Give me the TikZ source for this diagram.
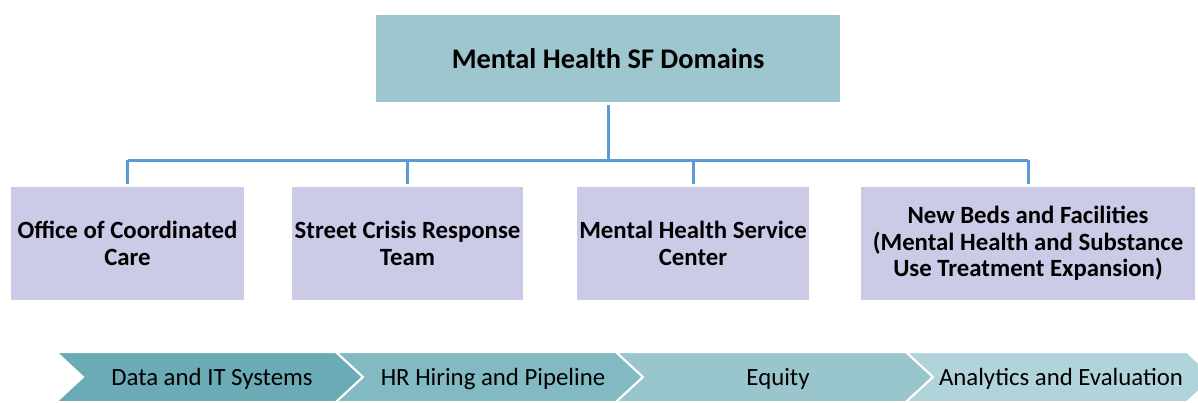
\documentclass[tikz,border=0pt]{standalone}
\usepackage{fontspec}
\setmainfont{Carlito}
\usepackage{xcolor}

\definecolor{topo}{HTML}{9DC6CE}
\definecolor{lilas}{HTML}{CBCBE8}
\definecolor{ramo}{HTML}{5B9BD5}
\definecolor{setaA}{HTML}{6AABB6}
\definecolor{setaB}{HTML}{81BAC3}
\definecolor{setaC}{HTML}{99C5CD}
\definecolor{setaD}{HTML}{B1D4DA}

\begin{document}
\begin{tikzpicture}[x=0.5pt,y=-0.5pt]
        \tikzstyle{titulo}=[fill=topo, draw=none, minimum width=232pt, minimum height=43.5pt, font=\bfseries\fontsize{14.2}{17}\selectfont]
        \tikzstyle{dominio}=[fill=lilas, draw=none, minimum height=56.5pt, align=center, inner sep=1pt, font=\bfseries\fontsize{12.4}{13.3}\selectfont]
        \tikzstyle{ligacao}=[draw=ramo, line width=1.5pt]
        \tikzstyle{seta}=[draw=white, line width=1pt]
        \tikzstyle{rotulo}=[font=\fontsize{12.4}{14}\selectfont]

        \useasboundingbox (0,0) rectangle (1198,402);

        % caixa principal
        \node[titulo] (mhsf) at (608,58.5) {Mental Health SF Domains};

        % dominios
        \node[dominio, minimum width=116.5pt] (occ) at (127.5,243.5) {Office of Coordinated\\Care};
        \node[dominio, minimum width=115.5pt] (scrt) at (407.5,243.5) {Street Crisis Response\\Team};
        \node[dominio, minimum width=116pt] (mhsc) at (693,243.5) {Mental Health Service\\Center};
        \node[dominio, minimum width=167pt] (beds) at (1028,243.5) {New Beds and Facilities\\(Mental Health and Substance\\Use Treatment Expansion)};

        % ligacoes
        \coordinate (barra) at (608,160);
        \draw[ligacao] ([yshift=-1.5pt]mhsf.south) -- (barra);
        \draw[ligacao] (occ.north |- barra) -- (beds.north |- barra);
        \foreach \d in {occ,scrt,mhsc,beds}
            \draw[ligacao] (\d.north |- barra) -- ([yshift=1.5pt]\d.north);

        % faixa de setas
        \filldraw[seta, fill=setaA] (56,352) -- (336,352) -- (363,377) -- (336,402) -- (56,402) -- (83,377) -- cycle;
        \filldraw[seta, fill=setaB] (336,352) -- (616,352) -- (643,377) -- (616,402) -- (336,402) -- (363,377) -- cycle;
        \filldraw[seta, fill=setaC] (616,352) -- (906,352) -- (933,377) -- (906,402) -- (616,402) -- (643,377) -- cycle;
        \filldraw[seta, fill=setaD] (906,352) -- (1187,352) -- (1214,377) -- (1187,402) -- (906,402) -- (933,377) -- cycle;

        \node[rotulo] (dados) at (212,379) {Data and IT Systems};
        \node[rotulo] (rh) at (493,379) {HR Hiring and Pipeline};
        \node[rotulo] (equidade) at (778,379) {Equity};
        \node[rotulo] (analise) at (1061,379) {Analytics and Evaluation};
      \end{tikzpicture}
\end{document}
